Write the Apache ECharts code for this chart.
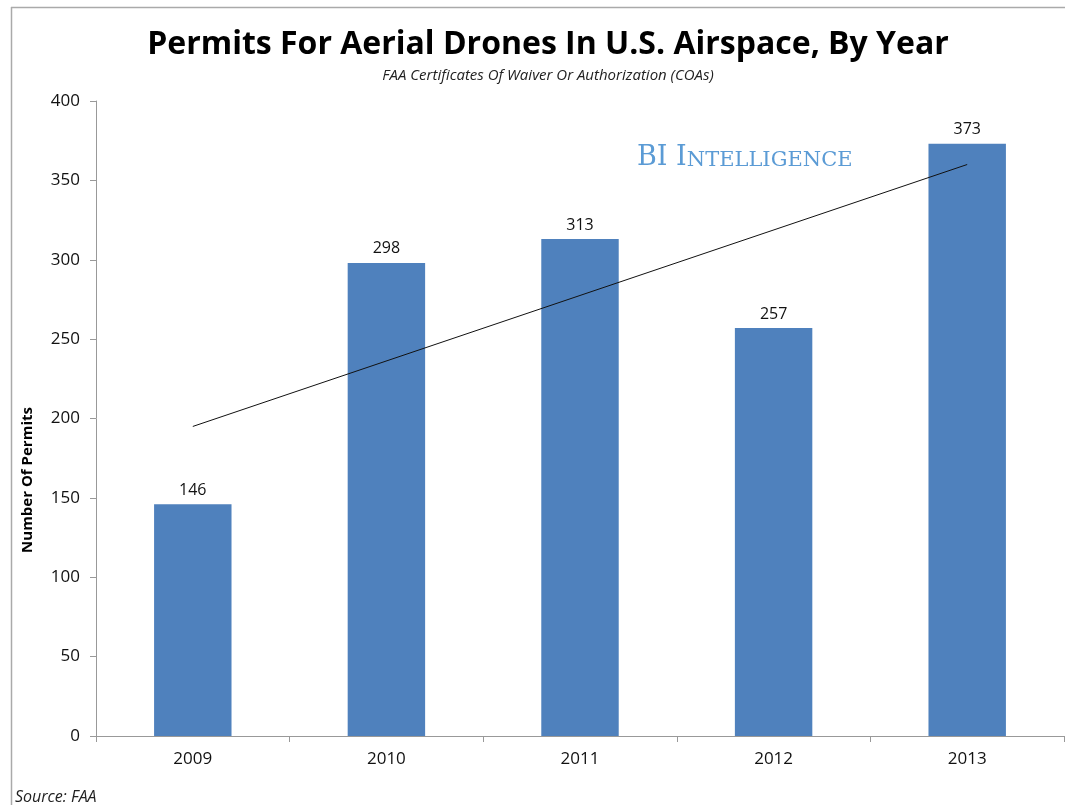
<!DOCTYPE html>
<html>
<head>
<meta charset="utf-8">
<script src="https://cdn.jsdelivr.net/npm/echarts@6/dist/echarts.min.js"></script>
<style>
  html, body { margin: 0; padding: 0; background: #fff; }
  #chart { width: 1065px; height: 805px; }
</style>
</head>
<body>
<div id="chart"></div>
<script>
// Drone permits (FAA COAs) issued per year
const years = ['2009', '2010', '2011', '2012', '2013'];
const permits = [146, 298, 313, 257, 373];
// Trend line endpoints (first and last year)
const trendEnds = [195, 360];
const yTicks = { min: 0, max: 400, interval: 50 };

const trend = years.map((_, i) => i === 0 ? trendEnds[0] : (i === years.length - 1 ? trendEnds[1] : null));

const labelFont = '"Open Sans", sans-serif';

const chart = echarts.init(document.getElementById('chart'), null, { renderer: 'canvas' });
chart.setOption({
  backgroundColor: '#ffffff',
  animation: false,
  title: {
    text: 'Permits For Aerial Drones In U.S. Airspace, By Year',
    subtext: 'FAA Certificates Of Waiver Or Authorization (COAs)',
    left: 543,
    textAlign: 'center',
    top: 24,
    itemGap: 7,
    textStyle: { fontFamily: labelFont, fontWeight: 'bold', fontSize: 32, color: '#000' },
    subtextStyle: { fontFamily: labelFont, fontStyle: 'italic', fontSize: 15, color: '#222' }
  },
  grid: { left: 96, top: 101, width: 968, bottom: 69, containLabel: false },
  xAxis: {
    type: 'category',
    data: years,
    axisLine: { lineStyle: { color: '#999', width: 1 } },
    axisTick: { show: true, length: 6, lineStyle: { color: '#999' } },
    axisLabel: { fontFamily: labelFont, fontSize: 17, color: '#111', margin: 15 }
  },
  yAxis: {
    type: 'value',
    min: yTicks.min, max: yTicks.max, interval: yTicks.interval,
    axisLine: { show: true, lineStyle: { color: '#999', width: 1 } },
    axisTick: { show: true, length: 6, lineStyle: { color: '#999' } },
    splitLine: { show: false },
    axisLabel: { fontFamily: labelFont, fontSize: 17, color: '#111', margin: 16 }
  },
  series: [
    {
      type: 'bar',
      data: permits,
      barWidth: '40%',
      itemStyle: { color: '#4F81BD' },
      label: { show: true, position: 'top', distance: 6, fontFamily: labelFont, fontSize: 16, color: '#111' }
    },
    {
      type: 'line',
      data: trend,
      connectNulls: true,
      symbol: 'none',
      lineStyle: { color: '#111', width: 1 },
      z: 3
    }
  ],
  graphic: [
    { type: 'line', shape: { x1: 11, y1: 7.5, x2: 1065, y2: 7.5 }, style: { stroke: '#aaa', lineWidth: 1.5 } },
    { type: 'line', shape: { x1: 11.5, y1: 7, x2: 11.5, y2: 805 }, style: { stroke: '#aaa', lineWidth: 1.5 } },
    {
      type: 'text', x: 28, y: 480, rotation: Math.PI / 2,
      style: { text: 'Number Of Permits', fontFamily: labelFont, fontWeight: 'bold', fontSize: 15, fill: '#000', align: 'center', verticalAlign: 'middle' }
    },
    {
      type: 'text', x: 637, y: 158,
      style: {
        text: '{a|BI I}{b|NTELLIGENCE}',
        verticalAlign: 'middle',
        rich: {
          a: { fontFamily: '"DejaVu Serif", serif', fontSize: 27, fill: '#5B9BD5', verticalAlign: 'bottom' },
          b: { fontFamily: '"DejaVu Serif", serif', fontSize: 21, fill: '#5B9BD5', verticalAlign: 'bottom' }
        }
      }
    },
    {
      type: 'text', x: 15, y: 797,
      style: { text: 'Source: FAA', fontFamily: labelFont, fontStyle: 'italic', fontSize: 16, fill: '#222', verticalAlign: 'middle' }
    }
  ]
});
</script>
</body>
</html>
